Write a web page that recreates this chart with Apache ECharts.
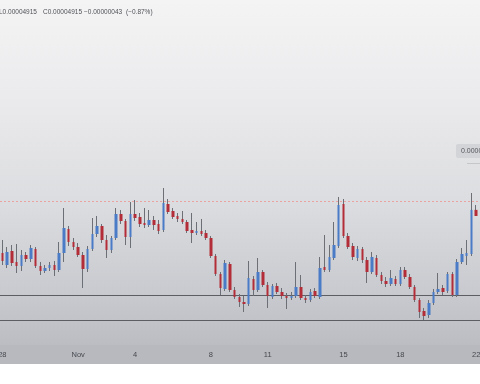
<!DOCTYPE html>
<html><head><meta charset="utf-8">
<script src="https://cdn.jsdelivr.net/npm/echarts@6/dist/echarts.min.js"></script>
<style>html,body{margin:0;padding:0;background:#fff}#c{width:480px;height:384px}</style>
</head><body><div id="c"></div>
<script>
// 6-hour candles, prices in units of 1e-8
const days = ['10-28','10-29','10-30','10-31','11-01','11-02','11-03','11-04','11-05','11-06','11-07','11-08','11-09','11-10','11-11','11-12','11-13','11-14','11-15','11-16','11-17','11-18','11-19','11-20','11-21'];
const hours = ['00:00','06:00','12:00','18:00'];
const categories = [];
days.forEach(d => hours.forEach(h => categories.push(d + ' ' + h)));
categories.push('11-22 00:00');
const tickLabels = {'10-28 00:00':'28','11-01 00:00':'Nov','11-04 00:00':'4','11-08 00:00':'8','11-11 00:00':'11','11-15 00:00':'15','11-18 00:00':'18','11-22 00:00':'22'};

const opens = [4656,4572,4670,4593,4565,4642,4614,4684,4565,4530,
4551,4572,4537,4656,4824,4733,4698,4642,4544,4684,
4789,4845,4747,4677,4761,4929,4880,4768,4929,4908,
4866,4852,4887,4859,4817,4999,4950,4915,4894,4873,
4817,4796,4810,4796,4761,4635,4509,4404,4579,4397,
4348,4313,4299,4474,4397,4523,4432,4348,4425,4383,
4355,4341,4355,4418,4341,4327,4390,4348,4558,4537,
4621,4705,4999,4775,4705,4621,4684,4607,4523,4621,
4502,4460,4439,4474,4439,4537,4488,4418,4327,4250,
4222,4306,4383,4411,4390,4509,4362,4593,4635,4649,
4958];
const closes = [4600,4663,4586,4565,4642,4614,4691,4565,4530,4551,
4572,4537,4656,4831,4733,4698,4642,4544,4684,4789,
4845,4747,4677,4761,4929,4880,4768,4929,4901,4859,
4852,4887,4852,4810,5006,4943,4908,4894,4873,4810,
4796,4810,4789,4761,4635,4509,4411,4586,4397,4348,
4313,4299,4481,4397,4523,4432,4355,4425,4383,4355,
4341,4355,4418,4341,4327,4383,4355,4551,4537,4628,
4712,4992,4775,4698,4628,4684,4607,4523,4628,4502,
4460,4439,4481,4439,4537,4488,4418,4327,4243,4215,
4306,4383,4404,4383,4509,4362,4593,4649,4656,4958,
4915];
const lows = [4572,4551,4565,4516,4530,4593,4593,4551,4502,4516,
4530,4495,4523,4593,4705,4677,4628,4411,4523,4670,
4768,4726,4621,4656,4747,4859,4712,4691,4880,4838,
4831,4838,4817,4789,4803,4929,4894,4873,4859,4796,
4726,4782,4775,4747,4621,4495,4362,4390,4383,4334,
4278,4243,4285,4355,4383,4418,4271,4334,4369,4334,
4264,4327,4341,4327,4306,4313,4341,4334,4523,4523,
4607,4691,4761,4684,4607,4600,4586,4446,4509,4488,
4439,4418,4425,4425,4425,4474,4404,4313,4201,4187,
4201,4292,4369,4362,4376,4348,4348,4579,4572,4635,
4915];
const highs = [4747,4698,4712,4719,4677,4663,4712,4698,4593,4572,
4593,4600,4733,4971,4845,4761,4726,4663,4705,4901,
4915,4859,4782,4775,4971,4957,4894,5013,5027,4936,
4971,4957,4915,4887,5111,5034,4971,4936,4950,4887,
4936,4873,4894,4817,4775,4649,4523,4607,4593,4418,
4369,4355,4600,4495,4621,4537,4453,4439,4446,4411,
4376,4383,4593,4502,4362,4404,4411,4628,4782,4712,
4873,5048,5034,4796,4726,4705,4698,4628,4663,4642,
4523,4488,4537,4495,4558,4558,4509,4432,4341,4271,
4327,4404,4516,4432,4523,4523,4614,4691,4747,5076,
4992];
const levels = {resistance: 5016.5, support1: 4358.5, support2: 4183.5};
const headerTexts = ['L0.00004915', 'C0.00004915', '\u22120.00000043', '(\u22120.87%)'];
const priceLabel = '0.0000';

const UP = '#4a7bc6', DOWN = '#b22d37', WICK = '#6c6f76';
const wickData = categories.map((_, i) => [opens[i], closes[i], lows[i], highs[i]]);
const bodyData = categories.map((_, i) => [opens[i], closes[i], Math.min(opens[i], closes[i]), Math.max(opens[i], closes[i])]);

const chart = echarts.init(document.getElementById('c'), null, {renderer: 'canvas'});
const font = 'Liberation Sans, Arial, sans-serif';
const headerX = [-1, 43, 84, 126];
const levelLine = (v, style) => ({
  type: 'line', xAxisIndex: 1, yAxisIndex: 1, data: [[0, v], [1, v]],
  symbol: 'none', silent: true, lineStyle: style, z: 1
});
chart.setOption({
  animation: false,
  backgroundColor: '#ffffff',
  grid: [
    {left: 0, right: 1.5, top: 0, bottom: 39, containLabel: false, outerBoundsMode: 'none'},
    {left: 0, right: 0, top: 0, bottom: 39, containLabel: false, outerBoundsMode: 'none'}
  ],
  xAxis: [{
    type: 'category', data: categories, boundaryGap: true, gridIndex: 0,
    axisLine: {show: false}, axisTick: {show: false}, splitLine: {show: false},
    axisLabel: {
      interval: (idx, val) => tickLabels[val] !== undefined,
      formatter: v => tickLabels[v] || '',
      alignMinLabel: 'center', alignMaxLabel: 'center',
      fontSize: 7.5, color: '#45474d', margin: 6, fontFamily: font
    }
  }, {type: 'value', gridIndex: 1, min: 0, max: 1, show: false}],
  yAxis: [
    {type: 'value', gridIndex: 0, min: 4012, max: 6427, show: false},
    {type: 'value', gridIndex: 1, min: 4012, max: 6427, show: false}
  ],
  graphic: [
    {type: 'rect', z: -10, shape: {x: 0, y: 0, width: 480, height: 345},
      style: {fill: {type: 'linear', x: 0, y: 0, x2: 0, y2: 1, colorStops: [
        {offset: 0, color: '#f4f4f5'}, {offset: 0.3, color: '#eaeaec'},
        {offset: 0.6, color: '#dbdcdf'}, {offset: 0.85, color: '#c9cacf'},
        {offset: 1, color: '#bbbdc3'}]}}},
    {type: 'rect', z: -10, shape: {x: 0, y: 345, width: 480, height: 19}, style: {fill: '#b7b9bf'}},
    {type: 'rect', z: 100, shape: {x: 456, y: 144, width: 34, height: 14, r: 2}, style: {fill: '#d3d4d8'}},
    {type: 'text', z: 101, x: 461, y: 151, style: {text: priceLabel, fontSize: 7, fill: '#55575c', fontFamily: font, verticalAlign: 'middle'}},
    {type: 'line', z: 100, shape: {x1: 467, y1: 163.5, x2: 480, y2: 163.5}, style: {stroke: '#c6c7cb', lineWidth: 1}},
    ...headerTexts.map((t, k) => ({type: 'text', z: 100, x: headerX[k], y: 12,
      style: {text: t, fontSize: 6.5, fill: '#505257', fontFamily: font, verticalAlign: 'middle'}}))
  ],
  series: [
    levelLine(levels.resistance, {color: '#eba3a3', type: [2, 2], width: 1}),
    levelLine(levels.support1, {color: '#5c5e64', type: 'solid', width: 1}),
    levelLine(levels.support2, {color: '#5c5e64', type: 'solid', width: 1}),
    {
      type: 'candlestick', name: 'wicks', data: wickData, barWidth: 1, xAxisIndex: 0, yAxisIndex: 0,
      itemStyle: {color: WICK, color0: WICK, borderColor: WICK, borderColor0: WICK, borderWidth: 1}
    },
    {
      type: 'candlestick', name: 'bodies', data: bodyData, barWidth: 3, xAxisIndex: 0, yAxisIndex: 0,
      itemStyle: {color: UP, color0: DOWN, borderColor: UP, borderColor0: DOWN, borderWidth: 0}
    }
  ]
});
</script></body></html>
